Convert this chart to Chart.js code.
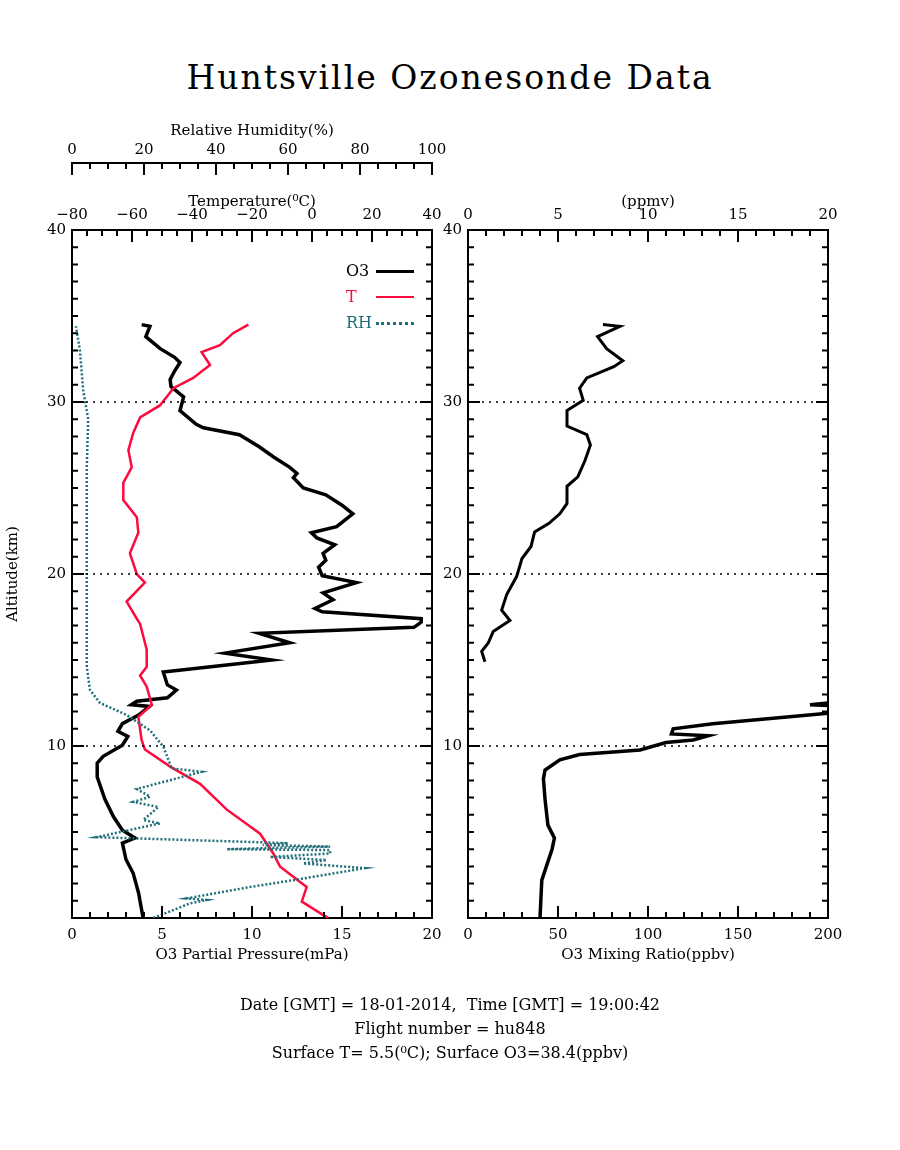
<!DOCTYPE html>
<html><head><meta charset="utf-8">
<script src="https://cdn.jsdelivr.net/npm/chart.js@4/dist/chart.umd.min.js"></script>
<style>
body{margin:0;background:#fff;width:900px;height:1150px;position:relative;overflow:hidden;font-family:"DejaVu Serif","Liberation Serif",serif;}
canvas{position:absolute;left:0;top:0;}
.t{position:absolute;white-space:nowrap;}
.c{left:0;width:900px;text-align:center;}
</style></head><body>
<div class="t c" style="top:58px;font-size:33px;letter-spacing:2px;">Huntsville Ozonesonde Data</div>
<canvas id="c1" width="900" height="1150"></canvas>
<canvas id="c2" width="900" height="1150"></canvas>
<div class="t" style="left:346px;top:261px;font-size:16px;">O3</div>
<div class="t" style="left:376px;top:270px;width:38px;height:3px;background:#000;"></div>
<div class="t" style="left:346px;top:287px;font-size:16px;color:#ff0a3c;">T</div>
<div class="t" style="left:376px;top:296px;width:38px;height:2px;background:#ff0a3c;"></div>
<div class="t" style="left:346px;top:313px;font-size:16px;color:#1f6f7a;">RH</div>
<div class="t" style="left:376px;top:322px;width:38px;height:0;border-top:3px dotted #1f6f7a;"></div>
<div class="t c" style="top:995px;font-size:16px;">Date [GMT] = 18-01-2014,&nbsp; Time [GMT] = 19:00:42</div>
<div class="t c" style="top:1019px;font-size:16px;">Flight number = hu848</div>
<div class="t c" style="top:1043px;font-size:16px;">Surface T= 5.5(&#8304;C); Surface O3=38.4(ppbv)</div>
<script>
const o3Alt=[0,1.45,2.6,3.4,4.35,4.65,5.1,5.9,6.9,8.2,9.0,9.4,10.05,10.55,10.85,11.3,11.8,12.3,12.4,12.6,12.8,13.25,13.55,14.3,15.0,15.4,16.0,16.55,16.9,17.2,17.4,17.8,18.0,18.5,18.9,19.5,19.9,20.4,20.8,21.2,21.7,22.1,22.4,22.75,23.0,23.5,24.0,24.6,25.0,25.6,25.85,26.2,26.8,27.4,28.1,28.5,28.7,29.5,30.3,30.9,31.3,31.8,32.3,32.6,33.1,33.8,34.4,34.5];
const o3PP=[3.95,3.7,3.4,3.0,2.8,3.5,2.8,2.3,1.83,1.4,1.4,1.73,2.8,3.1,2.55,2.8,3.7,4.3,3.3,3.6,5.3,5.8,5.3,5.07,11.1,8.5,12.1,10.4,19.0,19.4,19.4,13.9,13.5,14.5,13.95,15.8,13.9,13.7,14.1,13.95,14.6,13.6,13.3,14.7,15.0,15.6,15.0,14.1,12.85,12.3,12.5,12.1,11.2,10.4,9.3,7.3,6.9,6.0,6.2,5.5,5.45,5.7,6.0,5.7,4.9,4.1,4.33,3.87];
const tAlt=[0,0.17,0.95,1.8,3.0,3.75,4.9,6.3,7.8,8.8,9.8,10.35,11.7,12.4,13.45,14.1,14.6,15.6,17.1,17.4,18.4,19.5,20.0,21.2,22.4,23.3,24.3,25.3,26.2,27.2,28.2,29.1,29.8,30.3,30.8,31.4,32.15,32.9,33.3,34.0,34.5];
const tVal=[5.5,3.8,-3.4,-1.8,-10.7,-12.9,-17.3,-28.4,-37.3,-47.3,-55.7,-56.8,-57.9,-53.4,-55.1,-57.3,-55.1,-55.1,-57.3,-58.4,-61.8,-55.7,-58.4,-60.7,-57.9,-58.4,-62.9,-62.9,-60.1,-61.2,-59.6,-57.3,-50.7,-48.4,-46.2,-39.6,-34,-36.8,-30.7,-26.3,-21.2];
const rhAlt=[0,0.85,1.05,1.14,1.8,2.2,2.9,3.17,3.37,3.55,3.75,3.95,4.0,4.1,4.15,4.25,4.35,4.7,5.5,5.7,6.45,6.75,7.05,7.5,8.5,8.7,9.95,10.9,11.8,12.5,13.25,14.6,17.4,22.4,26.2,29.0,30.7,33.0,34.4];
const rhVal=[22.6,32.8,37.4,31.9,49.4,61.5,81.4,64.2,70.7,55,71.7,71.7,43,60,71.7,53,60,6.9,24.4,19.8,24,17,21.7,18,36,27.7,25.4,21.7,15.2,7.8,5,4.1,4.1,4.1,4.1,4.5,3.1,2.2,1.1];
const mrAlt=[0,2.2,4.0,4.65,5.4,6.9,8.1,8.6,9.2,9.5,9.77,10.2,10.35,10.6,10.7,11.0,11.3,11.9,12.2,12.4,12.5,12.7];
const mrVal=[40,41,46.7,48,44.4,42.8,41.9,42.8,51,62,95.6,110,125,133.5,113,114,136,200,240,190,200,240];
const upAlt=[14.9,15.5,16.0,16.65,17.3,17.9,18.8,19.85,20.9,21.6,22.45,22.95,23.5,24.1,25.1,25.65,26.6,27.5,28.1,28.6,29.5,30.1,30.8,31.4,32.05,32.4,33.1,33.8,34.4,34.5];
const upVal=[0.94,0.76,1.13,1.4,2.33,1.87,2.15,2.7,3.0,3.5,3.7,4.5,5.1,5.5,5.5,6.1,6.5,6.8,6.6,5.5,5.5,6.4,6.2,6.6,8.1,8.6,7.7,7.2,8.44,7.5];
const altTicks=[10,20,30,40];

const pts=(a,v)=>a.map((y,i)=>({x:v[i],y:y}));
const F={family:"'DejaVu Serif','Liberation Serif',serif",size:15};
Chart.defaults.font=F;Chart.defaults.color='#000';
const minus=v=>String(v).replace('-','\u2212');

const tickPlugin={id:'tk',afterDraw(ch,args,opt){
  const c=ch.ctx,a=ch.chartArea;c.save();c.strokeStyle='#000';
  c.lineWidth=1.5;c.setLineDash([2,5]);
  const ys=ch.scales.y;
  [10,20,30].forEach(v=>{const p=ys.getPixelForValue(v);c.beginPath();c.moveTo(a.left,p);c.lineTo(a.right,p);c.stroke();});
  c.setLineDash([]);c.lineWidth=2;
  opt.list.forEach(s=>{
    const sc=ch.scales[s.id];
    for(let v=sc.min;v<=sc.max+1e-9;v+=s.minor){
      const maj=Math.abs(Math.round(v/s.major)*s.major-v)<1e-6;
      const L=maj?12:6,p=sc.getPixelForValue(v);
      c.beginPath();
      if(s.side==='b'){c.moveTo(p,a.bottom);c.lineTo(p,a.bottom-L);}
      else if(s.side==='t'){c.moveTo(p,a.top);c.lineTo(p,a.top+L);}
      else if(s.side==='r'){c.moveTo(p,sc.bottom);c.lineTo(p,sc.bottom+L);}
      else if(s.side==='l'){c.moveTo(a.left,p);c.lineTo(a.left+L,p);c.moveTo(a.right,p);c.lineTo(a.right-L,p);}
      c.stroke();
    }
  });
  c.restore();
}};
const border={display:true,color:'#000',width:2};
const noGrid={drawOnChartArea:false,drawTicks:false};
const gapAxis={type:'linear',position:'top',weight:1,display:true,ticks:{display:false},grid:{display:false},border:{display:false},afterFit:s=>{s.height=23;}};

new Chart(document.getElementById('c1'),{type:'scatter',
 data:{datasets:[
  {data:pts(rhAlt,rhVal),xAxisID:'xRH',borderColor:'#1f6f7a',borderWidth:2.5,borderDash:[2,2],showLine:true,pointRadius:0},
  {data:pts(tAlt,tVal),xAxisID:'xT',borderColor:'#ff0a3c',borderWidth:2.5,showLine:true,pointRadius:0},
  {data:pts(o3Alt,o3PP),xAxisID:'x',borderColor:'#000',borderWidth:3.5,showLine:true,pointRadius:0}]},
 plugins:[tickPlugin],
 options:{responsive:false,animation:false,events:[],
  layout:{padding:{left:0,right:468,top:120,bottom:182}},
  plugins:{legend:{display:false},tooltip:{enabled:false},
   tk:{list:[{id:'x',side:'b',major:5,minor:1},{id:'xT',side:'t',major:20,minor:5},{id:'y',side:'l',major:10,minor:1},{id:'xRH',side:'r',major:20,minor:5}]}},
  scales:{
   x:{type:'linear',position:'bottom',min:0,max:20,ticks:{stepSize:5,padding:8},grid:noGrid,border,
      title:{display:true,text:'O3 Partial Pressure(mPa)',padding:{top:0}},afterFit:s=>{s.height=50;}},
   xT:{type:'linear',position:'top',min:-80,max:40,weight:0,ticks:{stepSize:20,padding:6,callback:minus},grid:noGrid,border,
      title:{display:true,text:'Temperature(\u2070C)',padding:{bottom:0,top:7}},afterFit:s=>{s.height=44;}},
   gap:gapAxis,
   xRH:{type:'linear',position:'top',min:0,max:100,weight:2,ticks:{stepSize:20,padding:4},grid:noGrid,border,
      title:{display:true,text:'Relative Humidity(%)',padding:{bottom:0,top:2}},afterFit:s=>{s.height=43;}},
   y:{type:'linear',min:0,max:40,ticks:{stepSize:10,padding:6,callback:v=>altTicks.includes(v)?v:''},grid:noGrid,border,
      title:{display:true,text:'Altitude(km)',padding:{bottom:4}},afterFit:s=>{s.width=72;}},
   y2:{type:'linear',position:'right',min:0,max:40,ticks:{display:false},grid:noGrid,border,afterFit:s=>{s.width=0;}}
  }}});

new Chart(document.getElementById('c2'),{type:'scatter',
 data:{datasets:[
  {data:pts(upAlt,upVal),xAxisID:'x2',borderColor:'#000',borderWidth:3,showLine:true,pointRadius:0},
  {data:pts(mrAlt,mrVal),xAxisID:'x',borderColor:'#000',borderWidth:3.5,showLine:true,pointRadius:0}]},
 plugins:[tickPlugin],
 options:{responsive:false,animation:false,events:[],
  layout:{padding:{left:428,right:72,top:163,bottom:182}},
  plugins:{legend:{display:false},tooltip:{enabled:false},
   tk:{list:[{id:'x',side:'b',major:50,minor:10},{id:'x2',side:'t',major:5,minor:1},{id:'y',side:'l',major:10,minor:1}]}},
  scales:{
   x:{type:'linear',position:'bottom',min:0,max:200,ticks:{stepSize:50,padding:8},grid:noGrid,border,
      title:{display:true,text:'O3 Mixing Ratio(ppbv)',padding:{top:0}},afterFit:s=>{s.height=50;}},
   x2:{type:'linear',position:'top',min:0,max:20,weight:0,ticks:{stepSize:5,padding:6},grid:noGrid,border,
      title:{display:true,text:'(ppmv)',padding:{bottom:0,top:7}},afterFit:s=>{s.height=44;}},
   gap:gapAxis,
   y:{type:'linear',min:0,max:40,ticks:{stepSize:10,padding:6,callback:v=>altTicks.includes(v)?v:''},grid:noGrid,border,afterFit:s=>{s.width=40;}},
   y2:{type:'linear',position:'right',min:0,max:40,ticks:{display:false},grid:noGrid,border,afterFit:s=>{s.width=0;}}
  }}});
</script></body></html>
